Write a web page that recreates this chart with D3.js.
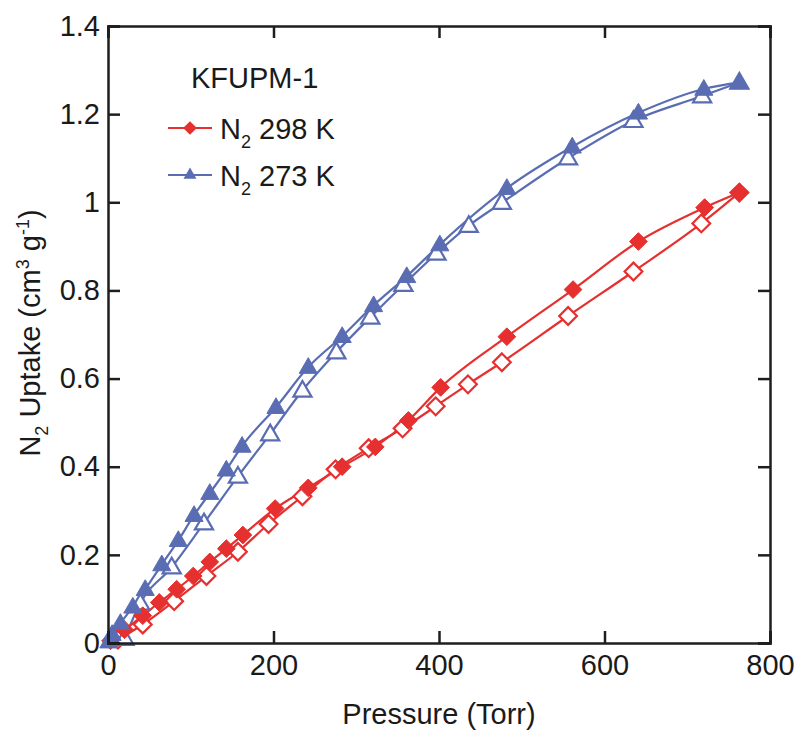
<!DOCTYPE html>
<html>
    <head>
        <script src="https://d3js.org/d3.v7.min.js"></script>
        <style>
            body { margin: 0; background: #fff; }
            text { font-family: Arial, "Liberation Sans", sans-serif; fill: #1a1a1a; }
        </style>
    </head>
    <body>
        <svg width="796" height="733"></svg>

        <script>
            // N2 298 K, adsorption (filled) and desorption (open)
            const p298Ads = [3, 20, 42, 62, 83, 103, 123, 143, 163, 202, 242, 283, 323, 363, 402, 482, 562, 641, 721, 763];
            const v298Ads = [0.005, 0.03, 0.062, 0.092, 0.122, 0.152, 0.184, 0.214, 0.245, 0.305, 0.352, 0.4, 0.445, 0.505, 0.58, 0.695, 0.802, 0.911, 0.988, 1.022];
            const p298Des = [763, 717, 635, 556, 476, 435, 396, 356, 315, 275, 235, 194, 157, 119, 80, 42, 12];
            const v298Des = [1.022, 0.952, 0.843, 0.742, 0.637, 0.587, 0.537, 0.487, 0.442, 0.394, 0.333, 0.27, 0.207, 0.152, 0.095, 0.042, 0.008];

            // N2 273 K
            const p273Ads = [1, 5, 15, 30, 45, 65, 85, 104, 123, 143, 162, 203, 242, 283, 321, 361, 401, 482, 561, 641, 720, 763];
            const v273Ads = [0.003, 0.02, 0.045, 0.082, 0.122, 0.178, 0.233, 0.29, 0.34, 0.393, 0.447, 0.535, 0.626, 0.696, 0.766, 0.832, 0.904, 1.032, 1.126, 1.203, 1.257, 1.272];
            const p273Des = [763, 718, 635, 556, 476, 436, 397, 357, 317, 276, 235, 196, 157, 116, 77, 39, 20];
            const v273Des = [1.272, 1.241, 1.185, 1.1, 0.999, 0.947, 0.884, 0.813, 0.739, 0.66, 0.573, 0.474, 0.378, 0.272, 0.172, 0.09, 0.01];

            const xTicks = [0, 200, 400, 600, 800];
            const yTicks = [0, 0.2, 0.4, 0.6, 0.8, 1, 1.2, 1.4];

            const red = '#e5302f';
            const blue = '#5a6db3';
            const fs = 29, fsSub = 18;

            const svg = d3.select('svg');
            const mLeft = 108, mRight = 770, mTop = 26, mBottom = 643;

            const x = d3.scaleLinear().domain([0, 800]).range([mLeft, mRight]);
            const y = d3.scaleLinear().domain([0, 1.4]).range([mBottom, mTop]);

            const zip = (ps, vs) => ps.map((p, i) => ({p, v: vs[i]}));

            // open (desorption) drawn first so filled markers sit on top
            const series = [
                {data: zip(p298Des, v298Des), color: red, shape: 'diamond', filled: false},
                {data: zip(p273Des, v273Des), color: blue, shape: 'triangle', filled: false},
                {data: zip(p298Ads, v298Ads), color: red, shape: 'diamond', filled: true},
                {data: zip(p273Ads, v273Ads), color: blue, shape: 'triangle', filled: true}
            ];

            const line = d3.line()
                .x(d => x(d.p))
                .y(d => y(d.v))
                .curve(d3.curveMonotoneX);

            const sym = {
                diamond: d3.symbol().type(d3.symbolDiamond2).size(200),
                triangle: d3.symbol().type(d3.symbolTriangle2).size(235)
            };

            // lines
            series.forEach(s => {
                const sorted = s.data.slice().sort((a, b) => a.p - b.p);
                svg.append('path')
                    .attr('d', line(sorted))
                    .attr('fill', 'none')
                    .attr('stroke', s.color)
                    .attr('stroke-width', 2.2);
            });

            // markers
            series.forEach(s => {
                svg.append('g').selectAll('path')
                    .data(s.data)
                    .join('path')
                    .attr('d', sym[s.shape])
                    .attr('transform', d => `translate(${x(d.p)},${y(d.v) + (s.shape === 'triangle' ? 1 : 0)})`)
                    .attr('fill', s.filled ? s.color : '#fff')
                    .attr('stroke', s.color)
                    .attr('stroke-width', s.filled ? 1 : 2.2);
            });

            // frame with inward ticks
            const axisColor = '#1e1e1e';
            svg.append('g').attr('transform', `translate(0,${mBottom})`)
                .call(d3.axisBottom(x).tickValues(xTicks).tickSize(-12).tickPadding(11).tickFormat(d3.format('d')));
            svg.append('g').attr('transform', `translate(0,${mTop})`)
                .call(d3.axisTop(x).tickValues(xTicks).tickSize(-12).tickFormat(''));
            svg.append('g').attr('transform', `translate(${mLeft},0)`)
                .call(d3.axisLeft(y).tickValues(yTicks).tickSize(-12).tickPadding(8).tickFormat(d => d === 0 || d === 1 ? d3.format('d')(d) : d3.format('.1f')(d)));
            svg.append('g').attr('transform', `translate(${mRight},0)`)
                .call(d3.axisRight(y).tickValues(yTicks).tickSize(-12).tickFormat(''));

            svg.selectAll('.domain').attr('stroke', axisColor).attr('stroke-width', 2.5);
            svg.selectAll('.tick line').attr('stroke', axisColor).attr('stroke-width', 2.5);
            svg.selectAll('.tick text').style('font-size', fs + 'px').attr('fill', '#1a1a1a')
                .style('font-family', 'Arial, "Liberation Sans", sans-serif');

            // axis titles
            svg.append('text')
                .attr('x', 439)
                .attr('y', 724)
                .attr('text-anchor', 'middle')
                .style('font-size', fs + 'px')
                .text('Pressure (Torr)');

            const yt = svg.append('text')
                .attr('transform', 'translate(40,333) rotate(-90)')
                .attr('text-anchor', 'middle')
                .style('font-size', fs + 'px');
            yt.append('tspan').text('N');
            yt.append('tspan').attr('dy', 8).style('font-size', fsSub + 'px').text('2');
            yt.append('tspan').attr('dy', -8).text(' Uptake (cm');
            yt.append('tspan').attr('dy', -11).style('font-size', fsSub + 'px').text('3');
            yt.append('tspan').attr('dy', 11).text(' g');
            yt.append('tspan').attr('dy', -11).style('font-size', fsSub + 'px').text('-1');
            yt.append('tspan').attr('dy', 11).text(')');

            // legend
            svg.append('text').attr('x', 191).attr('y', 88).style('font-size', fs + 'px').text('KFUPM-1');

            const legendItems = [
                {label: '298 K', color: red, shape: 'diamond', yy: 128},
                {label: '273 K', color: blue, shape: 'triangle', yy: 175}
            ];
            legendItems.forEach(l => {
                svg.append('line')
                    .attr('x1', 168).attr('x2', 212)
                    .attr('y1', l.yy).attr('y2', l.yy)
                    .attr('stroke', l.color).attr('stroke-width', 2.2);
                svg.append('path')
                    .attr('d', d3.symbol().type(l.shape === 'diamond' ? d3.symbolDiamond2 : d3.symbolTriangle2).size(120)())
                    .attr('transform', `translate(190,${l.yy})`)
                    .attr('fill', l.color);
                const t = svg.append('text').attr('x', 220).attr('y', l.yy + 11).style('font-size', fs + 'px');
                t.append('tspan').text('N');
                t.append('tspan').attr('dy', 9).style('font-size', fsSub + 'px').text('2');
                t.append('tspan').attr('dy', -9).text(' ' + l.label);
            });
        </script>
    </body>
</html>
